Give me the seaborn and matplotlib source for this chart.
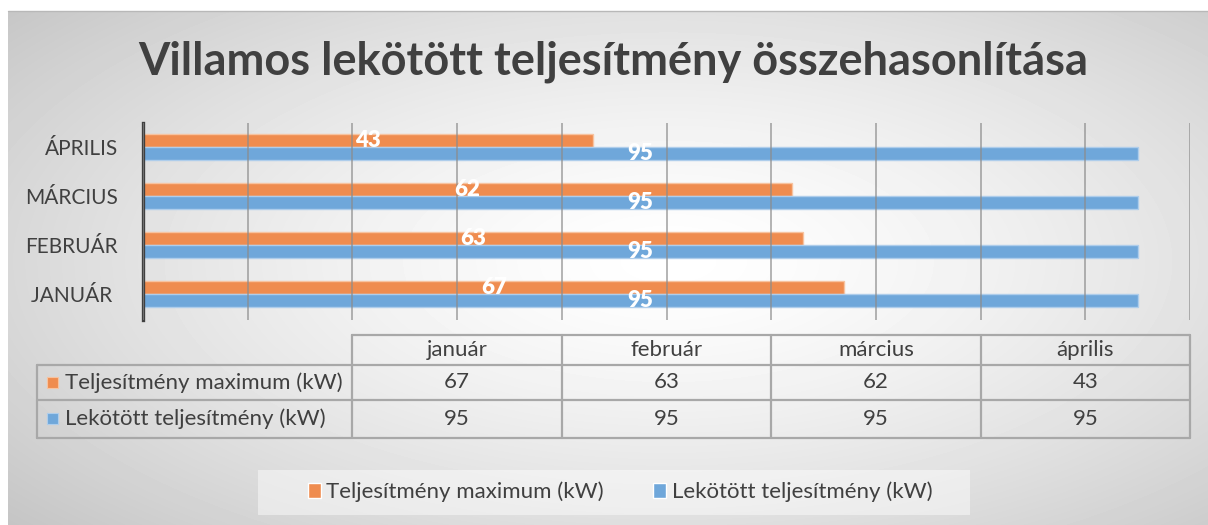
import numpy as np
import pandas as pd
import matplotlib
matplotlib.use("Agg")
import matplotlib.pyplot as plt
from matplotlib.patches import Rectangle
import seaborn as sns

# chart data
months = ["JANUÁR ", "FEBRUÁR", "MÁRCIUS", "ÁPRILIS"]
table_months = ["január", "február", "március", "április"]
max_kw = [67, 63, 62, 43]
contract_kw = [95, 95, 95, 95]
series_names = ["Teljesítmény maximum (kW)", "Lekötött teljesítmény (kW)"]
title = "Villamos lekötött teljesítmény összehasonlítása"

ORANGE = "#EF8C4F"
BLUE = "#6FA7DA"
TEXT = "#404040"
GRID = "#8c8c8c"

sns.set_theme(style="white")
plt.rcParams["font.family"] = ["Lato", "DejaVu Sans"]

W, H = 1208, 525
fig = plt.figure(figsize=(W / 100, H / 100), dpi=100)
fig.patch.set_facecolor("white")

# radial grey background
bg = fig.add_axes([8 / W, 0, 1200 / W, 514 / H])
yy, xx = np.mgrid[0:514, 0:1200]
r = np.sqrt(((xx - 660) / 660) ** 2 + ((yy - 250) / 300) ** 2) / np.sqrt(2)
shade = 1 - 0.25 * np.clip(r, 0, 1) ** 1.4
bg.imshow(shade, cmap="gray", vmin=0, vmax=1, aspect="auto", interpolation="bilinear")
bg.axis("off")
fig.add_artist(plt.Line2D([8 / W, 1], [1 - 11 / H, 1 - 11 / H], color="#b8b8b8", lw=1))

fig.text(613 / W, 1 - 62 / H, title, ha="center", va="center",
         fontsize=32.5, fontweight="bold", color=TEXT)

# bar chart
df = pd.DataFrame({
    "month": months * 2,
    "value": max_kw + contract_kw,
    "series": [series_names[0]] * 4 + [series_names[1]] * 4,
})
ax = fig.add_axes([143 / W, 1 - 320 / H, 1047 / W, 197 / H])
ax.patch.set_alpha(0)
sns.barplot(data=df, y="month", x="value", hue="series", orient="h",
            order=months[::-1], hue_order=series_names, saturation=1,
            palette=[ORANGE, BLUE], width=0.54, gap=0, ax=ax, zorder=2)
edges = ["#F7C3A0", "#AECDEB"]
for cont, ec in zip(ax.containers, edges):
    for p in cont:
        p.set_edgecolor(ec)
        p.set_linewidth(1)
    ax.bar_label(cont, label_type="center", color="white",
                 fontweight="heavy", fontsize=16)
handles, labels = ax.get_legend_handles_labels()
ax.legend_.remove()

ax.set_xlim(0, 100)
ax.set_ylim(3.53, -0.49)
ax.set_xticks(range(0, 101, 10))
ax.grid(axis="x", color=GRID, lw=1.3, alpha=0.7, zorder=3)
ax.set_axisbelow(False)
ax.tick_params(axis="x", length=0, labelbottom=False)
ax.tick_params(axis="y", length=0, pad=18, labelsize=15, labelcolor=TEXT)
ax.set_xlabel("")
ax.set_ylabel("")
for s in ["top", "right", "bottom"]:
    ax.spines[s].set_visible(False)
ax.spines["left"].set_color("#404040")
ax.spines["left"].set_linewidth(2.4)

# data table under the chart
tax = fig.add_axes([37 / W, 1 - 438 / H, (1190 - 37) / W, 103 / H])
left = -10.12
tax.set_xlim(left, 100)
tax.set_ylim(438, 335)
tax.axis("off")
lc = "#a8a8a8"
col_edges = [20, 40, 60, 80, 100]
row_y = [335, 365, 400, 438]
kw = dict(color=lc, lw=1.6, clip_on=False)
tax.plot([20, 100], [335, 335], **kw)
for y in row_y[1:]:
    tax.plot([left, 100], [y, y], **kw)
tax.plot([left, left], [365, 438], **kw)
for x in col_edges:
    tax.plot([x, x], [335, 438], **kw)
centers = [(a + b) / 2 for a, b in zip(col_edges[:-1], col_edges[1:])]
fs = 16
for cx, m in zip(centers, table_months):
    tax.text(cx, 350, m, ha="center", va="center", fontsize=fs, color=TEXT)
for row, (vals, name, col) in enumerate(zip([max_kw, contract_kw], series_names, [ORANGE, BLUE])):
    yc = (row_y[row + 1] + row_y[row + 2]) / 2
    tax.add_patch(Rectangle((-9.17, yc - 5.5), 1.05, 11, facecolor=col,
                            edgecolor=edges[row], lw=0.8, clip_on=False))
    tax.text(-7.45, yc, name, ha="left", va="center", fontsize=fs, color=TEXT)
    for cx, v in zip(centers, vals):
        tax.text(cx, yc, str(v), ha="center", va="center", fontsize=fs, color=TEXT)

# legend
fig.add_artist(Rectangle((258 / W, 1 - 515 / H), 712 / W, 45 / H,
                         transform=fig.transFigure, facecolor="white",
                         alpha=0.45, edgecolor="none"))
fig.legend(handles, labels, ncol=2, loc="center", bbox_to_anchor=(620 / W, 1 - 492 / H),
           frameon=False, fontsize=16, handlelength=0.6, handleheight=0.6,
           handletextpad=0.25, columnspacing=2.2, labelcolor=TEXT)

fig.savefig("out.png", dpi=100)
